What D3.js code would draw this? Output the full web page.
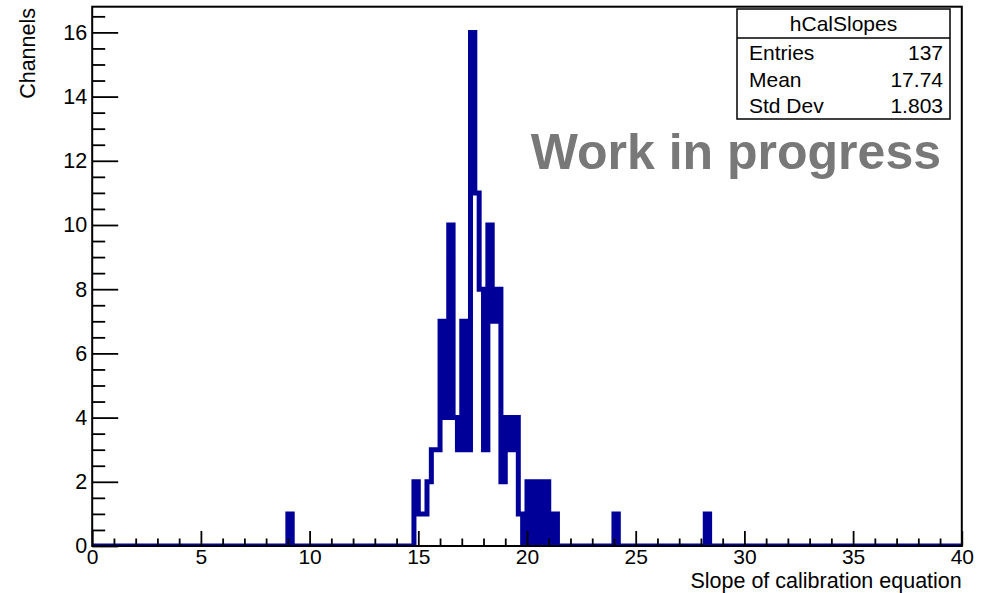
<!DOCTYPE html>
<html lang='en'>
<head>
  <meta charset='UTF-8'>
  <title>hCalSlopes</title>
  <style>
    body { margin: 0; background: #fff; }
    svg { display: block; font-family: 'Liberation Sans', Arial, Helvetica, sans-serif; }
    .tick text { font-size: 21.5px; fill: #000; }
    .x-axis .tick text { font-size: 21px; }
    .tick line { stroke: #000; stroke-width: 1.8px; }
  </style>
</head>
<body>
<div id='panel'></div>
<script src='https://d3js.org/d3.v7.min.js'></script>
<script>
  // histogram binning (200 bins from 0 to 40)
  var binRange = [0, 40]
  var binWidth = 0.2
  // lower edge of every non-empty bin and its content
  var binLowEdges = [9.0,
    14.8, 15.0, 15.2, 15.4, 15.6, 15.8, 16.0, 16.2, 16.4, 16.6, 16.8, 17.0, 17.2,
    17.4, 17.6, 17.8, 18.0, 18.2, 18.4, 18.6, 18.8, 19.0, 19.2, 19.4, 19.6,
    20.0, 20.4, 20.8, 21.2, 24.0, 28.2]
  var binCounts = [1,
    2, 1, 1, 2, 3, 3, 7, 4, 10, 4, 3, 7, 3,
    16, 11, 8, 3, 10, 7, 8, 2, 4, 3, 4, 1,
    2, 2, 2, 1, 1, 1]

  // axis ticks
  var xMajorTicks = [0, 5, 10, 15, 20, 25, 30, 35, 40]
  var xMinorTicks = [1, 2, 3, 4, 6, 7, 8, 9, 11, 12, 13, 14, 16, 17, 18, 19, 21, 22, 23, 24,
    26, 27, 28, 29, 31, 32, 33, 34, 36, 37, 38, 39]
  var yMajorTicks = [0, 2, 4, 6, 8, 10, 12, 14, 16]
  var yMinorTicks = [0.5, 1, 1.5, 2.5, 3, 3.5, 4.5, 5, 5.5, 6.5, 7, 7.5, 8.5, 9, 9.5,
    10.5, 11, 11.5, 12.5, 13, 13.5, 14.5, 15, 15.5, 16.5]
  var yMax = 16.8

  // stats box
  var statTitle = 'hCalSlopes'
  var statNames = ['Entries', 'Mean', 'Std Dev']
  var statValues = ['137', '17.74', '1.803']

  var width = 981, height = 593
  var frame = {left: 92.2, right: 961.8, top: 6.7, bottom: 546}

  var svg = d3.select('#panel').append('svg')
    .attr('width', width)
    .attr('height', height)

  var x = d3.scaleLinear().domain(binRange).range([frame.left, frame.right])
  var y = d3.scaleLinear().domain([0, yMax]).range([frame.bottom, frame.top])

  // full list of bins, empty ones get 0
  var countByBin = new Map(binLowEdges.map(function (e, i) {
    return [Math.round(e / binWidth), binCounts[i]]
  }))
  var nBins = Math.round((binRange[1] - binRange[0]) / binWidth)
  var bins = d3.range(nBins).map(function (i) {
    return {x0: binRange[0] + i * binWidth, count: countByBin.get(i) || 0}
  })

  // clip the histogram to the frame
  svg.append('defs').append('clipPath').attr('id', 'frameClip')
    .append('rect')
    .attr('x', frame.left).attr('y', frame.top)
    .attr('width', frame.right - frame.left)
    .attr('height', frame.bottom - frame.top)

  // histogram outline (thick step line)
  var points = bins.map(function (b) { return [b.x0, b.count] })
  points.push([binRange[1], 0])
  var step = d3.line()
    .x(function (d) { return x(d[0]) })
    .y(function (d) { return y(d[1]) })
    .curve(d3.curveStepAfter)

  svg.append('path')
    .attr('clip-path', 'url(#frameClip)')
    .attr('d', step(points))
    .style('fill', 'none')
    .style('stroke', '#000099')
    .style('stroke-width', 5)
    .style('stroke-linejoin', 'miter')

  // x axis: ticks point into the frame
  var gx = svg.append('g').attr('class', 'x-axis').attr('transform', 'translate(0,' + frame.bottom + ')')
  gx.call(d3.axisBottom(x).tickValues(xMajorTicks).tickSizeInner(-15).tickSizeOuter(0).tickPadding(3.5))
  gx.append('g').call(d3.axisBottom(x).tickValues(xMinorTicks).tickSizeInner(-7.5).tickSizeOuter(0).tickFormat(''))
  gx.selectAll('.domain').remove()

  // y axis
  var gy = svg.append('g').attr('transform', 'translate(' + frame.left + ',0)')
  gy.call(d3.axisLeft(y).tickValues(yMajorTicks).tickSizeInner(-26).tickSizeOuter(0).tickPadding(5))
  gy.append('g').call(d3.axisLeft(y).tickValues(yMinorTicks).tickSizeInner(-13).tickSizeOuter(0).tickFormat(''))
  gy.selectAll('.domain').remove()
  svg.selectAll('.tick text').attr('font-family', null)

  // frame
  svg.append('rect')
    .attr('x', frame.left).attr('y', frame.top)
    .attr('width', frame.right - frame.left)
    .attr('height', frame.bottom - frame.top)
    .style('fill', 'none')
    .style('stroke', '#000')
    .style('stroke-width', 2)

  // axis titles
  svg.append('text')
    .attr('x', frame.right).attr('y', 588)
    .attr('text-anchor', 'end')
    .style('font-size', '21.5px')
    .text('Slope of calibration equation')

  svg.append('text')
    .attr('transform', 'translate(35,' + 8 + ') rotate(-90)')
    .attr('text-anchor', 'end')
    .style('font-size', '21.5px')
    .text('Channels')

  // label
  svg.append('text')
    .attr('x', 941).attr('y', 169)
    .attr('text-anchor', 'end')
    .style('font-size', '50px')
    .style('font-weight', 'bold')
    .style('fill', '#787878')
    .text('Work in progress')

  // stats box
  var box = {x: 737, y: 9, w: 213, h: 110, head: 29}
  var stats = svg.append('g')
  stats.append('rect')
    .attr('x', box.x).attr('y', box.y).attr('width', box.w).attr('height', box.h)
    .style('fill', '#fff').style('stroke', '#000').style('stroke-width', 1.5)
  stats.append('line')
    .attr('x1', box.x).attr('x2', box.x + box.w)
    .attr('y1', box.y + box.head).attr('y2', box.y + box.head)
    .style('stroke', '#000').style('stroke-width', 1.5)
  stats.append('text')
    .attr('x', box.x + box.w / 2).attr('y', box.y + 22)
    .attr('text-anchor', 'middle')
    .style('font-size', '21px')
    .text(statTitle)
  statNames.forEach(function (name, i) {
    var by = box.y + 51 + i * 26.5
    stats.append('text').attr('x', box.x + 12).attr('y', by)
      .style('font-size', '21px').text(name)
    stats.append('text').attr('x', box.x + box.w - 7).attr('y', by)
      .attr('text-anchor', 'end')
      .style('font-size', '21px').text(statValues[i])
  })
</script>
</body>
</html>
